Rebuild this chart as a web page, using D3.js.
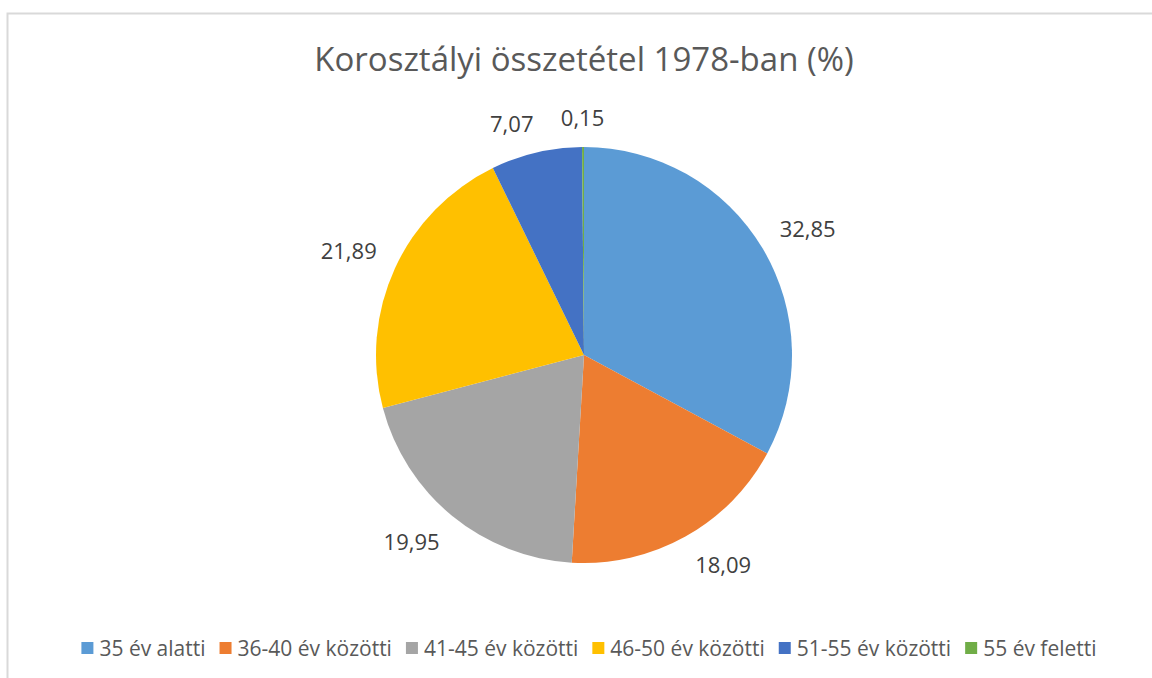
<!DOCTYPE html>
<html>
<head>
<meta charset="utf-8">
<script src="https://cdn.jsdelivr.net/npm/d3@7"></script>
<style>
  body { margin: 0; background: #fff; }
  svg { display: block; font-family: "Open Sans", sans-serif; }
</style>
</head>
<body>
<svg id="chart" width="1152" height="678"></svg>
<script>
// data
var categories = ["35 év alatti", "36-40 év közötti", "41-45 év közötti",
                  "46-50 év közötti", "51-55 év közötti", "55 év feletti"];
var values = [32.85, 18.09, 19.95, 21.89, 7.07, 0.15];
var colors = ["#5B9BD5", "#ED7D31", "#A5A5A5", "#FFC000", "#4472C4", "#70AD47"];
var title = "Korosztályi összetétel 1978-ban (%)";

var svg = d3.select("#chart");
var cx = 584, cy = 355, R = 208;

// chart area border (only top + left visible in the crop)
svg.append("rect")
   .attr("x", 7.5).attr("y", 13.5)
   .attr("width", 1200).attr("height", 720)
   .attr("fill", "none").attr("stroke", "#d9d9d9").attr("stroke-width", 2);

svg.append("text")
   .attr("x", 584).attr("y", 71)
   .attr("text-anchor", "middle")
   .attr("font-size", 33)
   .attr("fill", "#595959")
   .text(title);

var pie = d3.pie().sort(null).value(function(d){ return d; });
var arcs = pie(values);
var arc = d3.arc().innerRadius(0).outerRadius(R);

var g = svg.append("g").attr("transform", "translate(" + cx + "," + cy + ")");
g.selectAll("path.slice").data(arcs).enter().append("path")
   .attr("class", "slice")
   .attr("d", arc)
   .attr("fill", function(d, i){ return colors[i]; });

// outside-end labels: box pushed out so its edge sits near the rim
var fmt = function(v){ return v.toFixed(2).replace(".", ","); };
var labels = g.selectAll("text.lbl").data(arcs).enter().append("text")
   .attr("class", "lbl")
   .attr("font-size", 22)
   .attr("fill", "#404040")
   .attr("text-anchor", "middle")
   .attr("dominant-baseline", "central")
   .text(function(d){ return fmt(d.data); });

labels.each(function(d){
   var bb = this.getBBox();
   var hw = bb.width / 2, hh = 10;
   var a = (d.startAngle + d.endAngle) / 2;
   var s = Math.sin(a), c = Math.cos(a);
   var rr = R + 20;
   var kx = Math.max(-1, Math.min(1, s * 4));
   var ky = Math.max(-1, Math.min(1, c * 4));
   var x = rr * s + hw * kx;
   var y = -rr * c - hh * ky;
   d3.select(this).attr("x", x).attr("y", y);
});

// legend, centred under the pie
var legend = svg.append("g");
var items = legend.selectAll("g.item").data(categories).enter().append("g").attr("class", "item");
items.append("rect")
   .attr("width", 12).attr("height", 12)
   .attr("y", -6)
   .attr("fill", function(d, i){ return colors[i]; });
items.append("text")
   .attr("x", 18)
   .attr("font-size", 21)
   .attr("fill", "#595959")
   .attr("dominant-baseline", "central")
   .text(function(d){ return d; });

var xPos = 0;
items.each(function(){
   var w = this.getBBox().width;
   d3.select(this).attr("transform", "translate(" + xPos + ",0)");
   xPos += w + 14;
});
var total = xPos - 14;
legend.attr("transform", "translate(" + (589 - total / 2) + ",648)");
</script>
</body>
</html>
